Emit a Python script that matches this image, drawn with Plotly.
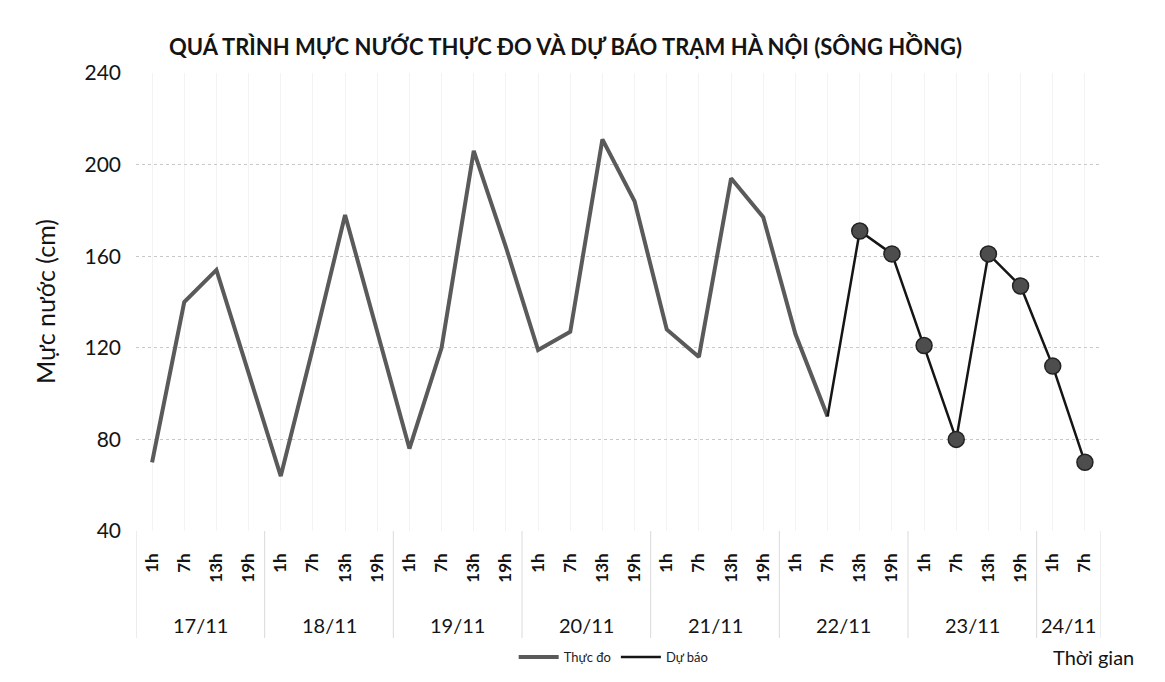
import plotly.graph_objects as go

day_labels = ["17/11", "18/11", "19/11", "20/11", "21/11", "22/11", "23/11", "24/11"]
hours_per_day = [4, 4, 4, 4, 4, 4, 4, 2]
hours = ["1h", "7h", "13h", "19h"] * 7 + ["1h", "7h"]

observed = [70, 140, 154, 109, 64, 120, 178, 127, 76, 120, 206, 164,
            119, 127, 211, 184, 128, 116, 194, 177, 126, 90,
            None, None, None, None, None, None, None, None]
forecast = [None] * 21 + [90, 171, 161, 121, 80, 161, 147, 112, 70]

y_ticks = [40, 80, 120, 160, 200, 240]

title_text = "QUÁ TRÌNH MỰC NƯỚC THỰC ĐO VÀ DỰ BÁO TRẠM HÀ NỘI (SÔNG HỒNG)"
y_title = "Mực nước (cm)"
x_title = "Thời gian"
name_obs = "Thực đo"
name_fc = "Dự báo"

FONT = "Lato"
TXT = "#141414"
# page body has an 8px margin; figure is sized to fit the window
W, H = 1157, 674
L, R, T, B = 128, 64, 65, 151
plot_h = H - T - B

xi = list(range(len(hours)))

fig = go.Figure()
fig.add_trace(go.Scatter(
    x=xi, y=observed, mode="lines", name=name_obs,
    line=dict(color="#5a5a5a", width=4),
))
fig.add_trace(go.Scatter(
    x=xi, y=forecast, mode="lines", name=name_fc,
    line=dict(color="#151515", width=2.5),
))
fc_markers = [None] * 22 + forecast[22:]
fig.add_trace(go.Scatter(
    x=xi, y=fc_markers, mode="markers", showlegend=False,
    marker=dict(size=16, color="#4d4d4d", line=dict(color="#222222", width=1.5)),
))

fig.update_layout(
    width=W, height=H,
    paper_bgcolor="white", plot_bgcolor="white",
    margin=dict(l=L, r=R, t=T, b=B, autoexpand=False),
    title=dict(text=f"<b>{title_text}</b>", x=557.5 / W, xanchor="center",
               y=1 - 39 / H, yanchor="middle",
               font=dict(family=FONT, size=22, color=TXT)),
    font=dict(family=FONT, color=TXT),
    legend=dict(orientation="h", x=0.495, xanchor="center", y=-126 / plot_h, yanchor="middle",
                font=dict(family=FONT, size=13, color="#222222"),
                itemwidth=40, bgcolor="rgba(0,0,0,0)"),
    showlegend=True,
)
fig.update_yaxes(
    range=[40, 240], tickvals=y_ticks, automargin=False,
    showgrid=True, gridcolor="#c8c8c8", griddash="dot", gridwidth=1,
    zeroline=False, showline=False,
    tickfont=dict(family=FONT, size=21, color=TXT),
    ticks="", ticklabelstandoff=14,
)
fig.update_xaxes(
    range=[-0.5, len(hours) - 0.5], automargin=False,
    tickvals=xi, ticktext=hours, tickangle=-90,
    tickfont=dict(family=FONT, size=17, color=TXT, weight="bold"),
    showgrid=True, gridcolor="#f3f3f3", gridwidth=1,
    zeroline=False, showline=False, ticks="", ticklabelstandoff=18,
)

# y-axis title
fig.add_annotation(
    text=y_title, xref="paper", yref="paper", x=(37 - L) / (W - L - R), y=0.5,
    xanchor="center", yanchor="middle", textangle=-90, showarrow=False,
    font=dict(family=FONT, size=25, color=TXT),
)
# day group labels and dividers
start = 0
for lab, n in zip(day_labels, hours_per_day):
    fig.add_annotation(
        text=lab, xref="x", yref="paper", x=start + (n - 1) / 2, y=-94 / plot_h,
        xanchor="center", yanchor="middle", showarrow=False,
        font=dict(family=FONT, size=20, color=TXT),
    )
    fig.add_shape(type="line", xref="x", yref="paper",
                  x0=start - 0.5, x1=start - 0.5, y0=0, y1=-107 / plot_h,
                  line=dict(color="#dadada", width=1))
    start += n
fig.add_shape(type="line", xref="x", yref="paper",
              x0=start - 0.5, x1=start - 0.5, y0=0, y1=-107 / plot_h,
              line=dict(color="#dadada", width=1))

fig.add_annotation(
    text=x_title, xref="paper", yref="paper", x=(1085 - L) / (W - L - R), y=-126 / plot_h,
    xanchor="center", yanchor="middle", showarrow=False,
    font=dict(family=FONT, size=20, color=TXT),
)

fig.write_html("out.html")
